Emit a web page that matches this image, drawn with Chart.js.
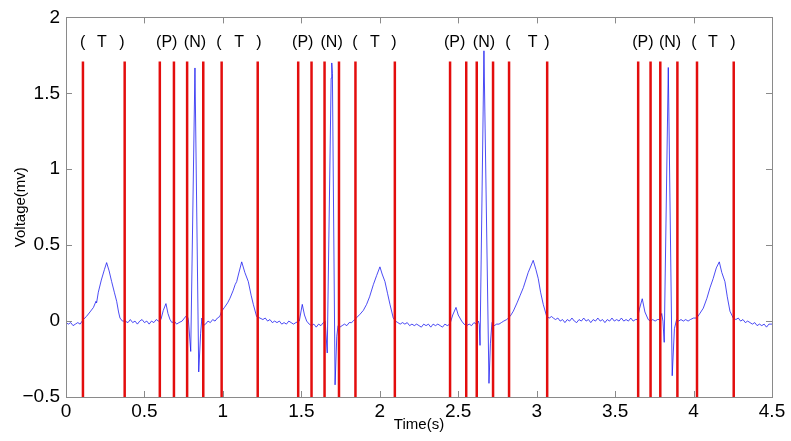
<!DOCTYPE html>
<html><head><meta charset="utf-8">
<script src="https://cdn.jsdelivr.net/npm/chart.js@4.4.1/dist/chart.umd.min.js"></script>
<style>html,body{margin:0;padding:0;background:#fff;}#wrap{width:791px;height:441px;}</style>
</head><body><div id="wrap"><canvas id="c" width="791" height="441"></canvas></div>
<script>
// ECG signal (time in s, voltage in mV)
const ecgTime = [0.000,0.015,0.030,0.045,0.060,0.075,0.090,0.110,0.130,0.153,0.175,0.191,0.195,0.206,0.225,0.245,0.259,0.275,0.291,0.308,0.323,0.335,0.344,0.360,0.376,0.395,0.410,0.425,0.440,0.455,0.470,0.485,0.500,0.515,0.530,0.545,0.560,0.575,0.590,0.605,0.620,0.637,0.650,0.663,0.675,0.690,0.705,0.720,0.740,0.755,0.771,0.780,0.795,0.822,0.846,0.858,0.866,0.875,0.890,0.905,0.920,0.935,0.950,0.965,0.980,0.992,1.010,1.030,1.045,1.065,1.078,1.088,1.100,1.120,1.140,1.162,1.180,1.194,1.215,1.236,1.255,1.270,1.285,1.300,1.315,1.330,1.345,1.360,1.375,1.390,1.405,1.420,1.435,1.450,1.465,1.487,1.506,1.520,1.534,1.550,1.565,1.580,1.595,1.610,1.625,1.640,1.652,1.665,1.690,1.694,1.698,1.715,1.726,1.734,1.746,1.760,1.775,1.790,1.805,1.820,1.831,1.850,1.874,1.895,1.916,1.935,1.959,1.980,2.001,2.015,2.033,2.050,2.065,2.086,2.100,2.115,2.130,2.145,2.160,2.175,2.190,2.205,2.220,2.235,2.250,2.265,2.280,2.295,2.310,2.325,2.340,2.355,2.370,2.385,2.400,2.415,2.430,2.447,2.465,2.486,2.500,2.522,2.537,2.554,2.570,2.585,2.600,2.615,2.628,2.634,2.639,2.664,2.696,2.705,2.715,2.730,2.745,2.760,2.775,2.790,2.809,2.830,2.851,2.875,2.895,2.915,2.946,2.978,2.995,3.010,3.025,3.042,3.064,3.080,3.095,3.106,3.120,3.135,3.150,3.165,3.180,3.195,3.210,3.225,3.240,3.255,3.270,3.285,3.300,3.315,3.330,3.345,3.360,3.375,3.390,3.405,3.420,3.435,3.450,3.465,3.480,3.495,3.510,3.525,3.540,3.555,3.570,3.585,3.600,3.615,3.630,3.641,3.655,3.673,3.690,3.711,3.725,3.740,3.755,3.770,3.785,3.797,3.805,3.813,3.839,3.864,3.878,3.892,3.905,3.920,3.935,3.950,3.965,3.980,4.000,4.020,4.040,4.062,4.085,4.105,4.125,4.145,4.164,4.180,4.190,4.200,4.215,4.232,4.253,4.270,4.285,4.300,4.315,4.330,4.345,4.360,4.375,4.390,4.405,4.420,4.435,4.450,4.465,4.480,4.500];
const ecgVolt = [-0.01,-0.02,-0.01,-0.03,-0.02,-0.01,-0.02,0.01,0.03,0.06,0.09,0.13,0.12,0.19,0.27,0.34,0.385,0.33,0.26,0.19,0.13,0.06,0.02,0.00,0.00,-0.01,0.01,-0.01,0.00,-0.02,0.00,0.01,-0.01,0.00,-0.02,0.00,-0.01,0.01,0.00,0.01,0.07,0.115,0.05,0.01,-0.01,0.00,-0.02,-0.01,0.00,0.02,0.04,0.01,-0.20,1.667,-0.335,-0.08,0.02,-0.03,-0.02,0.00,-0.01,0.01,0.00,0.02,0.03,0.065,0.09,0.12,0.15,0.20,0.24,0.26,0.31,0.39,0.32,0.26,0.17,0.11,0.03,0.02,0.01,0.02,0.00,0.01,-0.01,0.00,-0.01,0.00,-0.02,-0.01,-0.02,0.00,-0.01,-0.02,-0.01,0.00,0.11,0.04,0.00,-0.02,-0.03,-0.02,-0.04,-0.02,-0.03,-0.01,0.00,-0.21,1.60,1.70,1.63,-0.42,-0.10,-0.03,-0.04,-0.03,-0.02,-0.03,-0.01,-0.01,0.00,0.02,0.045,0.07,0.11,0.16,0.24,0.30,0.357,0.31,0.26,0.18,0.11,0.02,0.00,-0.01,-0.02,-0.01,-0.02,-0.01,-0.03,-0.02,-0.03,-0.02,-0.03,-0.04,-0.02,-0.03,-0.02,-0.04,-0.02,-0.03,-0.02,-0.03,-0.04,-0.02,-0.03,-0.02,0.04,0.09,0.04,0.00,-0.02,-0.03,-0.02,-0.03,-0.01,-0.02,0.00,-0.02,-0.16,1.78,-0.41,-0.15,-0.01,-0.03,-0.02,-0.02,-0.01,0.00,0.01,0.03,0.065,0.12,0.17,0.22,0.32,0.40,0.34,0.28,0.19,0.11,0.03,0.02,0.03,0.02,0.01,0.02,0.00,0.01,-0.01,0.01,0.00,0.02,0.00,-0.01,0.01,0.00,0.02,0.00,0.01,-0.01,0.01,0.00,0.02,0.00,0.01,-0.01,0.01,0.00,0.02,0.00,0.01,0.00,0.02,0.00,0.01,0.00,0.02,0.00,0.01,0.01,0.08,0.147,0.06,0.01,0.00,0.01,0.00,0.01,0.01,0.05,0.00,-0.14,1.67,-0.36,-0.05,0.01,0.00,0.01,0.00,0.01,0.00,0.01,0.02,0.02,0.05,0.085,0.15,0.22,0.28,0.35,0.39,0.32,0.29,0.26,0.16,0.065,0.02,0.01,0.02,0.00,0.01,-0.01,0.00,-0.01,-0.02,-0.01,-0.03,-0.02,-0.03,-0.02,-0.04,-0.02,-0.02];
// Segment boundary markers (s) and their vertical extent (mV)
const markerTimes = [0.108,0.374,0.598,0.688,0.772,0.875,0.992,1.222,1.480,1.565,1.648,1.740,1.845,2.096,2.448,2.551,2.618,2.722,2.824,3.067,3.647,3.726,3.788,3.897,4.022,4.256];
const markerBottom = -0.5;
const markerTop = 1.71;
// Annotation labels
const labelTexts = ["(","T",")","(P)","(N)","(","T",")","(P)","(N)","(","T",")","(P)","(N)","(","T",")","(P)","(N)","(","T",")"];
const labelTimes = [0.106,0.229,0.357,0.642,0.822,0.975,1.103,1.230,1.509,1.693,1.842,1.969,2.090,2.477,2.664,2.817,2.974,3.066,3.677,3.850,4.002,4.124,4.251];
const labelLevel = 1.835;
// Axes
const xTitle = "Time(s)";
const yTitle = "Voltage(mv)";
const xMin = 0, xMax = 4.5, yMin = -0.5, yMax = 2, tickStep = 0.5;

const ecgPoints = ecgTime.map((t,i)=>({x:t,y:ecgVolt[i]}));
const markerPoints = [];
markerTimes.forEach(t=>{markerPoints.push({x:t,y:markerBottom},{x:t,y:markerTop},{x:t,y:null});});

const FRAME = '#8a8a8a';
const frame = {
  id:'frame',
  afterDatasetsDraw(chart){
    const ctx = chart.ctx, a = chart.chartArea, xs = chart.scales.x, ys = chart.scales.y;
    ctx.save();
    ctx.strokeStyle = FRAME; ctx.lineWidth = 1;
    ctx.strokeRect(Math.round(a.left)+0.5, Math.round(a.top)+0.5, Math.round(a.right-a.left), Math.round(a.bottom-a.top));
    const L = 6;
    ctx.beginPath();
    xs.ticks.forEach(tk=>{
      const px = Math.round(xs.getPixelForValue(tk.value))+0.5;
      ctx.moveTo(px,a.bottom); ctx.lineTo(px,a.bottom-L);
      ctx.moveTo(px,a.top); ctx.lineTo(px,a.top+L);
    });
    ys.ticks.forEach(tk=>{
      const py = Math.round(ys.getPixelForValue(tk.value))+0.5;
      ctx.moveTo(a.left,py); ctx.lineTo(a.left+L,py);
      ctx.moveTo(a.right,py); ctx.lineTo(a.right-L,py);
    });
    ctx.stroke();
    // annotations
    ctx.fillStyle = '#000';
    ctx.font = '16px "Liberation Sans Narrow", "Liberation Sans", Arial, sans-serif';
    ctx.textAlign = 'center'; ctx.textBaseline = 'middle';
    const ly = ys.getPixelForValue(labelLevel);
    labelTexts.forEach((s,i)=>{ ctx.fillText(s, xs.getPixelForValue(labelTimes[i]), ly); });
    // axis titles
    ctx.font = '15px "Liberation Sans Narrow", "Liberation Sans", Arial, sans-serif';
    ctx.fillText(xTitle, (a.left+a.right)/2, 425);
    ctx.translate(21, (a.top+a.bottom)/2);
    ctx.rotate(-Math.PI/2);
    ctx.fillText(yTitle, 0, 0);
    ctx.restore();
  }
};

const tickFont = {family:'"Liberation Sans", Arial, sans-serif', size:19};
new Chart(document.getElementById('c'), {
  type:'scatter',
  data:{datasets:[
    {data:markerPoints, showLine:true, spanGaps:false, borderColor:'#e30d0d', borderWidth:2.5, pointRadius:0, order:0},
    {data:ecgPoints, showLine:true, borderColor:'rgba(20,20,240,0.85)', borderWidth:0.9, pointRadius:0, tension:0, order:1}
  ]},
  options:{
    responsive:false, animation:false, devicePixelRatio:1,
    layout:{padding:{top:12, right:19, left:0, bottom:0}},
    plugins:{legend:{display:false}, tooltip:{enabled:false}},
    scales:{
      x:{type:'linear', min:xMin, max:xMax,
         grid:{display:false, drawTicks:false}, border:{display:false},
         ticks:{stepSize:tickStep, color:'#000', font:tickFont, padding:3, maxRotation:0,
                callback:v=>String(v).replace('-','\u2212')},
         afterFit:s=>{s.height=44;}},
      y:{type:'linear', min:yMin, max:yMax,
         grid:{display:false, drawTicks:false}, border:{display:false},
         ticks:{stepSize:tickStep, color:'#000', font:tickFont, padding:6,
                callback:v=>String(v).replace('-','\u2212')},
         afterFit:s=>{s.width=66;}}
    }
  },
  plugins:[frame]
});
</script>
</body></html>
